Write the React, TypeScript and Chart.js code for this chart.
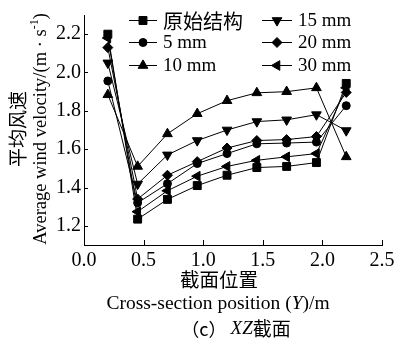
import React, { useEffect, useRef } from "react";
import { Chart, registerables } from "chart.js";
import { drawPoint } from "chart.js/helpers";

Chart.register(...registerables);

// ---- data ----
const positions = [0.2, 0.45, 0.7, 0.95, 1.2, 1.45, 1.7, 1.95, 2.2];
const seriesLabels = ["原始结构", "5 mm", "10 mm", "15 mm", "20 mm", "30 mm"];
const original = [2.2, 1.235, 1.338, 1.41, 1.464, 1.504, 1.51, 1.53, 1.943];
const mm5 = [1.956, 1.32, 1.42, 1.525, 1.577, 1.628, 1.632, 1.637, 1.827];
const mm10 = [1.884, 1.51, 1.68, 1.785, 1.853, 1.894, 1.9, 1.92, 1.56];
const mm15 = [2.05, 1.418, 1.57, 1.645, 1.7, 1.744, 1.753, 1.78, 1.697];
const mm20 = [2.13, 1.34, 1.464, 1.535, 1.606, 1.645, 1.65, 1.666, 1.896];
const mm30 = [2.18, 1.274, 1.383, 1.459, 1.51, 1.542, 1.56, 1.577, 1.92];
const xTicks = [0, 0.5, 1.0, 1.5, 2.0, 2.5];
const yTicks = [1.2, 1.4, 1.6, 1.8, 2.0, 2.2];

const seriesValues = [original, mm5, mm10, mm15, mm20, mm30];
const markerStyles = ["rect", "circle", "triangle", "triangle", "rectRot", "triangle"];
const markerRotations = [0, 0, 0, 180, 0, -90];
const markerRadii = [5.6, 4, 5.6, 5.6, 5, 5.6];

const SERIF = '"Liberation Serif", "Times New Roman", serif';
const CJK = '"Noto Sans CJK SC", sans-serif';

const decorPlugin = {
  id: "decor",
  afterDraw(chart: any) {
    const ctx: CanvasRenderingContext2D = chart.ctx;
    const area = chart.chartArea;
    const xs = chart.scales.x;
    const ys = chart.scales.y;
    ctx.save();
    // inward tick marks
    ctx.strokeStyle = "#000";
    ctx.lineWidth = 1;
    ctx.beginPath();
    for (const v of xTicks) {
      const px = Math.round(xs.getPixelForValue(v)) + 0.5;
      ctx.moveTo(px, area.bottom);
      ctx.lineTo(px, area.bottom - 5);
    }
    for (const v of yTicks) {
      const py = Math.round(ys.getPixelForValue(v)) + 0.5;
      ctx.moveTo(area.left, py);
      ctx.lineTo(area.left + 4, py);
    }
    ctx.stroke();

    // legend (two columns, three rows)
    const colLine = [
      [129, 157],
      [262, 292],
    ];
    const colText = [163, 298];
    const rowY = [20, 42, 65];
    chart.data.datasets.forEach((ds: any, i: number) => {
      const c = i < 3 ? 0 : 1;
      const r = i % 3;
      const y = rowY[r];
      ctx.strokeStyle = "#000";
      ctx.fillStyle = "#000";
      ctx.lineWidth = 1;
      ctx.beginPath();
      ctx.moveTo(colLine[c][0], y + 0.5);
      ctx.lineTo(colLine[c][1], y + 0.5);
      ctx.stroke();
      drawPoint(
        ctx,
        {
          pointStyle: ds.pointStyle,
          rotation: ds.pointRotation,
          radius: ds.pointRadius,
          borderWidth: 1,
        } as any,
        (colLine[c][0] + colLine[c][1]) / 2,
        y + 0.5
      );
      const isCjk = /[\u4e00-\u9fff]/.test(ds.label);
      ctx.font = isCjk ? `20px ${CJK}` : `19px ${SERIF}`;
      ctx.textAlign = "left";
      ctx.textBaseline = "middle";
      ctx.fillText(ds.label, colText[c], y + 1);
    });

    ctx.fillStyle = "#000";
    // y-axis titles
    ctx.save();
    ctx.translate(18, 129);
    ctx.rotate(-Math.PI / 2);
    ctx.font = `19px ${CJK}`;
    ctx.textAlign = "center";
    ctx.textBaseline = "middle";
    ctx.fillText("平均风速", 0, 0);
    ctx.restore();

    ctx.save();
    ctx.translate(41, 129);
    ctx.rotate(-Math.PI / 2);
    ctx.textBaseline = "middle";
    ctx.textAlign = "left";
    const mainFont = `18.5px ${SERIF}`;
    const supFont = `12px ${SERIF}`;
    const p1 = "Average wind velocity/(m · s";
    const p2 = "-1";
    const p3 = ")";
    ctx.font = mainFont;
    const w1 = ctx.measureText(p1).width;
    const w3 = ctx.measureText(p3).width;
    ctx.font = supFont;
    const w2 = ctx.measureText(p2).width;
    let sx = -(w1 + w2 + w3) / 2;
    ctx.font = mainFont;
    ctx.fillText(p1, sx, 0);
    sx += w1;
    ctx.font = supFont;
    ctx.fillText(p2, sx, -6);
    sx += w2;
    ctx.font = mainFont;
    ctx.fillText(p3, sx, 0);
    ctx.restore();

    // x-axis titles
    ctx.textBaseline = "middle";
    ctx.textAlign = "center";
    ctx.font = `19.5px ${CJK}`;
    ctx.fillText("截面位置", 219, 280);

    const drawRuns = (runs: [string, string][], cx: number, cy: number) => {
      let total = 0;
      const widths = runs.map(([t, f]) => {
        ctx.font = f;
        const w = ctx.measureText(t).width;
        total += w;
        return w;
      });
      let x = cx - total / 2;
      ctx.textAlign = "left";
      runs.forEach(([t, f], k) => {
        ctx.font = f;
        ctx.fillText(t, x, cy);
        x += widths[k];
      });
    };
    drawRuns(
      [
        ["Cross-section position (", `19.5px ${SERIF}`],
        ["Y", `italic 19.5px ${SERIF}`],
        [")/m", `19.5px ${SERIF}`],
      ],
      218,
      304
    );
    drawRuns(
      [
        ["（c） ", `18px ${CJK}`],
        ["XZ", `italic 19px ${SERIF}`],
        ["截面", `19px ${CJK}`],
      ],
      236,
      329
    );
    ctx.restore();
  },
};

export default function App() {
  const ref = useRef<HTMLCanvasElement | null>(null);
  useEffect(() => {
    if (!ref.current) return;
    const datasets = seriesLabels.map((label, i) => ({
      label,
      data: positions.map((p, k) => ({ x: p, y: seriesValues[i][k] })),
      borderColor: "#000",
      backgroundColor: "#000",
      borderWidth: 1,
      pointStyle: markerStyles[i],
      pointRotation: markerRotations[i],
      pointRadius: markerRadii[i],
      pointBorderWidth: 1,
      pointBackgroundColor: "#000",
      pointBorderColor: "#000",
      tension: 0,
      fill: false,
    }));
    const chart = new Chart(ref.current, {
      type: "line",
      data: { datasets },
      options: {
        animation: false,
        responsive: false,
        devicePixelRatio: 1,
        layout: { padding: { top: 13, right: 17, left: 0, bottom: 0 } },
        plugins: { legend: { display: false }, tooltip: { enabled: false } },
        scales: {
          x: {
            type: "linear",
            min: 0,
            max: 2.5,
            grid: { display: false, drawTicks: false },
            border: { display: true, color: "#000", width: 1 },
            afterBuildTicks: (s: any) => {
              s.ticks = xTicks.map((v) => ({ value: v }));
            },
            afterFit: (s: any) => {
              s.height = 96;
            },
            ticks: {
              color: "#000",
              padding: 4,
              maxRotation: 0,
              autoSkip: false,
              font: { family: SERIF, size: 20 },
              callback: (v: any) => Number(v).toFixed(1),
            },
          },
          y: {
            type: "linear",
            min: 1.1,
            max: 2.3,
            grid: { display: false, drawTicks: false },
            border: { display: true, color: "#000", width: 1 },
            afterBuildTicks: (s: any) => {
              s.ticks = yTicks.map((v) => ({ value: v }));
            },
            afterFit: (s: any) => {
              s.width = 84;
            },
            ticks: {
              color: "#000",
              padding: 3,
              autoSkip: false,
              font: { family: SERIF, size: 20 },
              callback: (v: any) => Number(v).toFixed(1),
            },
          },
        },
      },
      plugins: [decorPlugin],
    });
    return () => chart.destroy();
  }, []);
  return (
    <div style={{ position: "fixed", left: 0, top: 0, width: 399, height: 341, background: "#fff" }}>
      <canvas ref={ref} width={399} height={341} style={{ display: "block" }} />
    </div>
  );
}
